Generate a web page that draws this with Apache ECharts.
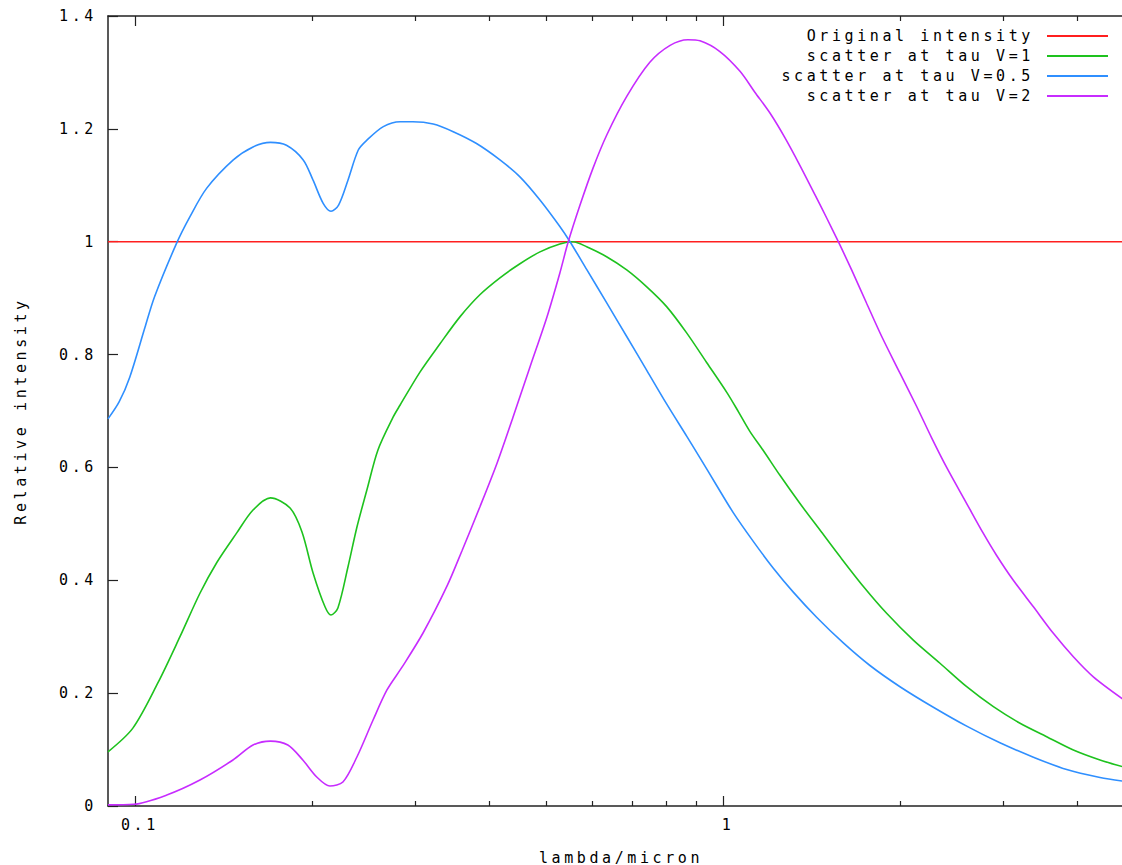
<!DOCTYPE html>
<html lang="en">
<head>
    <meta charset="UTF-8">
    <title>Relative intensity vs lambda</title>
    <script src="https://cdn.jsdelivr.net/npm/echarts@6/dist/echarts.min.js"></script>
    <style>
        body, html {
            margin: 0;
            background: #fff;
        }

        #main {
            width: 1122px;
            height: 865px;
        }

        /* gnuplot's pixel font is widely spaced */
        #main text {
            letter-spacing: 3.6px;
        }
    </style>
</head>
<body>
<div id="main"></div>
<script>
    // original intensity (flat)
    const lambdaOrig = [0.09, 5];
    const intensityOrig = [1, 1];

    // scatter at tau V=1
    const lambdaV1 = [0.09, 0.0992, 0.1094, 0.1193, 0.129, 0.1379, 0.149, 0.1588, 0.170, 0.1836, 0.1923, 0.2009,
        0.2105, 0.2155, 0.2214, 0.2303, 0.2385, 0.248, 0.259, 0.2748, 0.2825, 0.3053, 0.330, 0.357, 0.386,
        0.4176, 0.4516, 0.4884, 0.528, 0.556, 0.5864, 0.634, 0.686, 0.742, 0.802, 0.868, 0.938, 1.015, 1.062,
        1.111, 1.171, 1.250, 1.352, 1.462, 1.581, 1.733, 1.898, 2.107, 2.339, 2.597, 2.883, 3.2, 3.552, 3.943,
        4.377, 4.78];
    const intensityV1 = [0.096, 0.138, 0.218, 0.300, 0.377, 0.432, 0.484, 0.5245, 0.546, 0.528, 0.486, 0.413,
        0.353, 0.3385, 0.351, 0.4235, 0.494, 0.560, 0.631, 0.689, 0.7106, 0.769, 0.8187, 0.8668, 0.906,
        0.936, 0.961, 0.982, 0.996, 1.0, 0.991, 0.9734, 0.950, 0.920, 0.885, 0.838, 0.786, 0.733, 0.699,
        0.664, 0.63, 0.586, 0.536, 0.489, 0.442, 0.389, 0.3415, 0.294, 0.253, 0.2114, 0.176, 0.1466, 0.1228, 0.0992,
        0.0815, 0.0697];

    // scatter at tau V=0.5
    const lambdaV05 = [0.09, 0.094, 0.098, 0.104, 0.108, 0.1177, 0.124, 0.1324, 0.147, 0.1588, 0.170, 0.181,
        0.1933, 0.2009, 0.209, 0.2155, 0.222, 0.2303, 0.2398, 0.248, 0.2645, 0.2825, 0.297, 0.3216, 0.3478, 0.381,
        0.4176, 0.4516, 0.4884, 0.528, 0.5494, 0.5864, 0.634, 0.686, 0.742, 0.802, 0.868, 0.914, 0.9756, 1.041,
        1.126, 1.218, 1.317, 1.443, 1.602, 1.778, 2.0, 2.279, 2.597, 2.958, 3.372, 3.842, 4.377, 4.78];
    const intensityV05 = [0.686, 0.716, 0.76, 0.848, 0.9025, 0.997, 1.044, 1.0945, 1.145, 1.168, 1.176, 1.171,
        1.145, 1.109, 1.068, 1.054, 1.065, 1.109, 1.1625, 1.180, 1.204, 1.2127, 1.2127, 1.2086, 1.195, 1.174,
        1.145, 1.115, 1.074, 1.027, 1.0, 0.951, 0.892, 0.832, 0.772, 0.7125, 0.655, 0.617, 0.568, 0.52,
        0.469, 0.4213, 0.379, 0.3345, 0.289, 0.249, 0.2114, 0.175, 0.1415, 0.112, 0.0865, 0.0645, 0.0505, 0.0443];

    // scatter at tau V=2
    const lambdaV2 = [0.09, 0.0995, 0.1133, 0.129, 0.1468, 0.1588, 0.170, 0.182, 0.193, 0.204, 0.2146, 0.2258,
        0.2385, 0.254, 0.2683, 0.2846, 0.309, 0.3395, 0.3598, 0.386, 0.413, 0.4395, 0.4697, 0.502, 0.528, 0.545,
        0.571, 0.601, 0.635, 0.6865, 0.751, 0.813, 0.872, 0.914, 0.988, 1.069, 1.133, 1.202, 1.275, 1.352, 1.434,
        1.501, 1.571, 1.655, 1.755, 1.862, 2.0, 2.135, 2.265, 2.401, 2.597, 2.772, 2.92, 3.117, 3.372, 3.646,
        3.943, 4.264, 4.78];
    const intensityV2 = [0.002, 0.003, 0.0195, 0.046, 0.0815, 0.108, 0.115, 0.108, 0.0815, 0.051, 0.0354, 0.0425,
        0.0868, 0.152, 0.2056, 0.246, 0.3066, 0.39, 0.452, 0.530, 0.608, 0.689, 0.778, 0.8666, 0.9445, 0.998,
        1.064, 1.13, 1.19, 1.258, 1.318, 1.348, 1.358, 1.356, 1.337, 1.302, 1.265, 1.228, 1.184, 1.135, 1.083,
        1.042, 1.0, 0.950, 0.891, 0.832, 0.767, 0.708, 0.652, 0.600, 0.536, 0.483, 0.444, 0.400, 0.353, 0.306,
        0.2646, 0.229, 0.19];

    const majorTicks = [0.1, 1];
    const minorTicks = [0.2, 0.3, 0.4, 0.5, 0.6, 0.7, 0.8, 0.9, 2, 3, 4];
    const yTicks = [0, 0.2, 0.4, 0.6, 0.8, 1, 1.2, 1.4];

    const FONT = '"DejaVu Sans Mono", "Liberation Mono", monospace';
    const frameColor = '#222';

    const zip = (xs, ys) => xs.map((x, i) => [x, ys[i]]);

    function xAxisDef(pos, ticks, tickLen, withLine, withLabels) {
        return {
            type: 'log',
            logBase: 10,
            position: pos,
            min: 0.09,
            max: 5,
            name: withLabels ? 'lambda/micron' : '',
            nameLocation: 'middle',
            nameGap: 44,
            nameTextStyle: {fontFamily: FONT, fontSize: 15, color: '#000'},
            axisLine: {show: withLine, lineStyle: {color: frameColor, width: 1.5}},
            axisTick: {show: true, inside: true, length: tickLen, customValues: ticks,
                lineStyle: {color: frameColor, width: 1.2}},
            axisLabel: {show: withLabels, customValues: ticks, margin: 11, padding: [0, 0, 0, 10],
                fontFamily: FONT, fontSize: 15, color: '#000'},
            splitLine: {show: false},
            minorTick: {show: false},
            minorSplitLine: {show: false}
        };
    }

    const chart = echarts.init(document.getElementById('main'), null, {renderer: 'svg'});

    const lineSeries = (name, xs, ys, color) => ({
        name: name,
        type: 'line',
        xAxisIndex: 0,
        yAxisIndex: 0,
        data: zip(xs, ys),
        showSymbol: false,
        symbol: 'none',
        smooth: 0.3,
        lineStyle: {color: color, width: 1.6},
        itemStyle: {color: color},
        emphasis: {disabled: true}
    });

    chart.setOption({
        animation: false,
        backgroundColor: '#fff',
        // the plot runs past the right edge of the picture (cropped), so no outer-bounds squeeze
        grid: {left: 108, top: 16, width: 1026, height: 790, containLabel: false, outerBoundsMode: 'none'},
        legend: {
            orient: 'vertical',
            align: 'right',
            right: 14,
            top: 26,
            padding: 0,
            itemGap: 0,
            itemWidth: 61,
            itemHeight: 2,
            icon: 'rect',
            selectedMode: false,
            textStyle: {fontFamily: FONT, fontSize: 15, color: '#000', lineHeight: 20, padding: [0, 8, 0, 0]},
            data: ['Original intensity', 'scatter at tau V=1', 'scatter at tau V=0.5', 'scatter at tau V=2']
        },
        xAxis: [
            xAxisDef('bottom', majorTicks, 10, true, true),
            xAxisDef('bottom', minorTicks, 5, false, false),
            xAxisDef('top', majorTicks, 10, true, false),
            xAxisDef('top', minorTicks, 5, false, false)
        ],
        yAxis: {
            type: 'value',
            position: 'left',
            min: 0,
            max: 1.4,
            interval: 0.2,
            name: 'Relative intensity',
            nameLocation: 'middle',
            nameGap: 80,
            nameTextStyle: {fontFamily: FONT, fontSize: 15, color: '#000'},
            axisLine: {show: true, lineStyle: {color: frameColor, width: 1.5}},
            axisTick: {show: true, inside: true, length: 10, customValues: yTicks,
                lineStyle: {color: frameColor, width: 1.2}},
            axisLabel: {margin: 11, fontFamily: FONT, fontSize: 15, color: '#000'},
            splitLine: {show: false}
        },
        series: [
            lineSeries('Original intensity', lambdaOrig, intensityOrig, '#ff1f1f'),
            lineSeries('scatter at tau V=1', lambdaV1, intensityV1, '#1ec21e'),
            lineSeries('scatter at tau V=0.5', lambdaV05, intensityV05, '#2f8fff'),
            lineSeries('scatter at tau V=2', lambdaV2, intensityV2, '#c72cff')
        ]
    });
</script>
</body>
</html>
